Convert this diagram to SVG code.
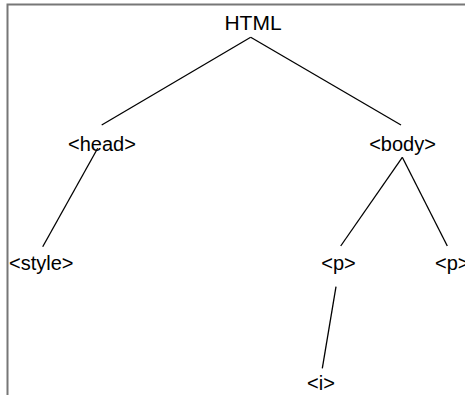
<svg xmlns="http://www.w3.org/2000/svg" width="465" height="395" viewBox="0 0 465 395">
<style>
.t{font-family:"Liberation Sans",Arial,sans-serif;font-size:20px;fill:#000;text-anchor:middle}
.e{stroke:#000;stroke-width:1.3;fill:none}
</style>
<rect width="465" height="395" fill="#fff"/>
<path d="M7.5 395 V4.5 H465" stroke="#777" stroke-width="2" fill="none"/>
<g id="connectors">
<line class="e" x1="250.7" y1="37.3" x2="101.7" y2="125"/>
<line class="e" x1="250.7" y1="37.3" x2="401" y2="125"/>
<line class="e" x1="97.7" y1="148.3" x2="42.7" y2="246.7"/>
<line class="e" x1="402.3" y1="157.3" x2="340.7" y2="246"/>
<line class="e" x1="402.3" y1="157.3" x2="447.3" y2="246"/>
<line class="e" x1="336" y1="286.7" x2="322.3" y2="368.3"/>
</g>
<g id="html"><text class="t" x="253" y="30" style="font-size:21px">HTML</text></g>
<g id="head"><text class="t" x="102" y="151">&lt;head&gt;</text></g>
<g id="body"><text class="t" x="402.5" y="151">&lt;body&gt;</text></g>
<g id="style"><text class="t" x="9" y="270" style="text-anchor:start">&lt;style&gt;</text></g>
<g id="p1"><text class="t" x="338.5" y="270">&lt;p&gt;</text></g>
<g id="p2"><text class="t" x="435" y="270" style="text-anchor:start">&lt;p&gt;</text></g>
<g id="i"><text class="t" x="321" y="390">&lt;i&gt;</text></g>
</svg>
